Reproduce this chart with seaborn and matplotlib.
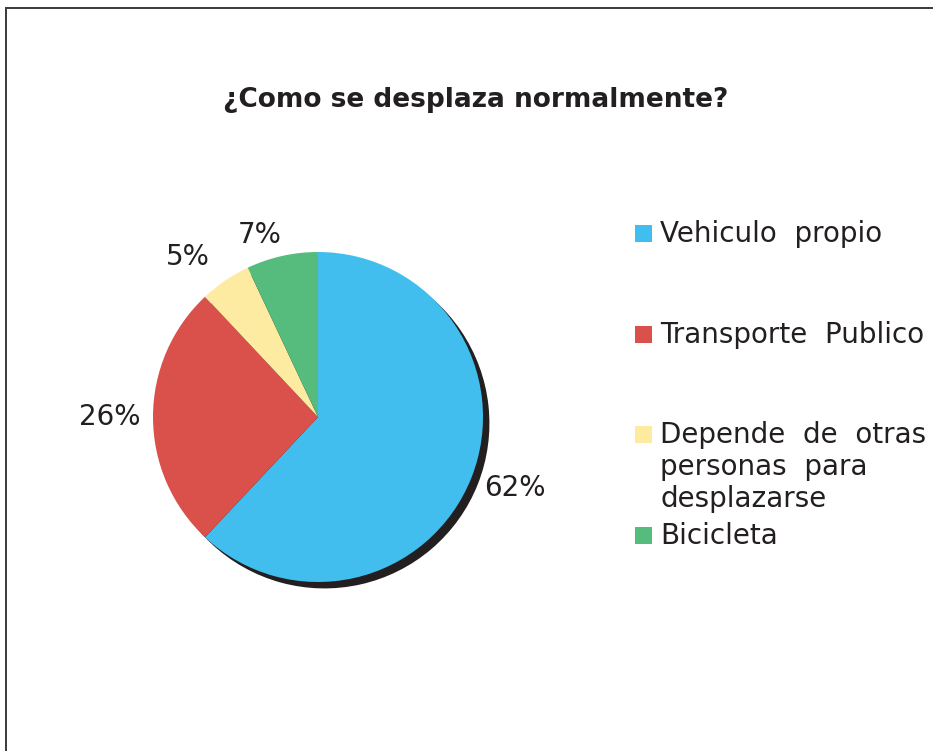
import matplotlib
matplotlib.use("Agg")
import numpy as np
import matplotlib.pyplot as plt
from matplotlib.patches import Rectangle
import seaborn as sns

sns.set_theme(style="white")
plt.rcParams['font.family'] = ['DejaVu Sans']

# data
categories = ['Vehiculo  propio', 'Transporte  Publico',
              'Depende  de  otras\npersonas  para\ndesplazarse', 'Bicicleta']
shares = [62, 26, 5, 7]
colors = ['#41BEEE', '#D9514A', '#FEEBA2', '#55BC7E']
title = '¿Como se desplaza normalmente?'

# label placement tweaks (radius, angle nudge in degrees)
label_r = [1.27, 1.26, 1.25, 1.16]
label_nudge = [1.8, 0.0, 4.8, 5.1]

text_color = '#231F20'
W, H = 933, 751
fig = plt.figure(figsize=(W / 100, H / 100), dpi=100)
fig.patch.set_facecolor('white')

# outer frame (only left/top visible in the reference)
fig.patches.append(Rectangle((6 / W, -0.05), 1.2, 1.05 - 8 / H,
                             transform=fig.transFigure, fill=False,
                             edgecolor='#3a3a3a', linewidth=1.4))

# pie axes: centre (318, 417) px, radius 165 px
r = 165
side = 2.5 * r
cx, cy = 318, H - 417
ax = fig.add_axes([(cx - side / 2) / W, (cy - side / 2) / H, side / W, side / H])

wedges, texts, autotexts = ax.pie(
    shares, colors=colors, startangle=90, counterclock=False,
    autopct='%1.0f%%', pctdistance=1.26,
    wedgeprops={'linewidth': 0, 'antialiased': True},
    shadow={'ox': 0.028, 'oy': -0.028, 'facecolor': '#231F20',
            'alpha': 1, 'edgecolor': 'none'},
    textprops={'fontsize': 20, 'color': text_color},
)
for w, t, rr, nd in zip(wedges, autotexts, label_r, label_nudge):
    ang = np.deg2rad((w.theta1 + w.theta2) / 2 + nd)
    t.set_position((rr * np.cos(ang), rr * np.sin(ang)))

ax.set_xlim(-1.25, 1.25)
ax.set_ylim(-1.25, 1.25)
ax.set_aspect('equal')
ax.axis('off')

fig.text(476 / W, 1 - 100 / H, title, ha='center', va='center',
         fontsize=19, fontweight='bold', color=text_color)

# legend on the right, one entry every ~100.7 px, wrapped lines 32 px apart
for i, (lab, col) in enumerate(zip(categories, colors)):
    base = 242 + i * 100.7
    fig.patches.append(Rectangle((635 / W, 1 - base / H), 17 / W, 17 / H,
                                 transform=fig.transFigure, facecolor=col,
                                 edgecolor='none'))
    for k, line in enumerate(lab.split('\n')):
        fig.text(660 / W, 1 - (base + 32 * k) / H, line, ha='left',
                 va='baseline', fontsize=20, color=text_color)

fig.savefig('out.png', dpi=100, facecolor='white')
